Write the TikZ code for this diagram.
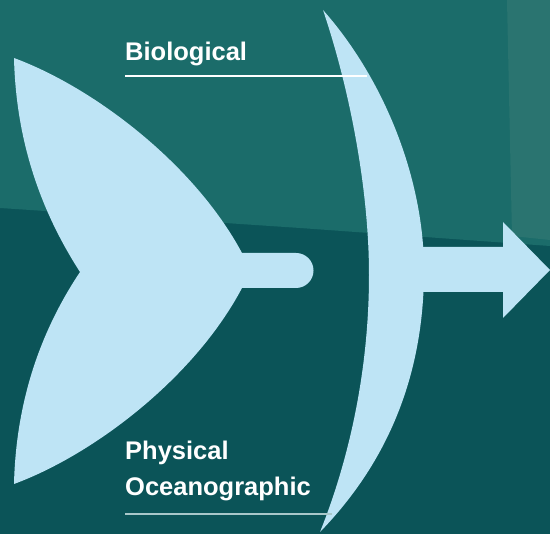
\documentclass[tikz,border=0pt]{standalone}
\usepackage{fontspec}
\setmainfont{Liberation Sans}
\definecolor{seatop}{HTML}{1B6C6A}
\definecolor{seadeep}{HTML}{0B5458}
\definecolor{seaedge}{HTML}{2A7470}
\definecolor{ice}{HTML}{BEE4F5}
\definecolor{mist}{HTML}{A9C8CA}
\begin{document}
\begin{tikzpicture}[
    x=1pt,
    y=-1pt,
    font=\fontsize{25.5}{30}\selectfont\bfseries,
    heading/.style={anchor=base west, inner sep=0pt, text=white},
    underrule/.style={line width=1.5pt}
]
\useasboundingbox (0,0) rectangle (550,534);
\fill[seadeep] (0,0) rectangle (550,534);
\fill[seatop] (0,0) -- (550,0) -- (550,246) -- (300,228) -- (0,208) -- cycle;
\fill[seaedge] (507,0) -- (550,0) -- (550,240) -- (512,236) -- cycle;

\fill[ice] (14,58) .. controls (95,88) and (195,165) .. (242,253)
    -- (296,253) .. controls (305.7,253) and (313.5,260.8) .. (313.5,270.5)
    .. controls (313.5,280.2) and (305.7,288) .. (296,288) -- (242,288)
    .. controls (195,377) and (95,454) .. (14,484)
    .. controls (16,402) and (40,332) .. (80,272)
    .. controls (40,210) and (16,140) .. (14,58) -- cycle;

\fill[ice] (323,10) .. controls (385,80) and (424,180) .. (424,270)
    .. controls (424,375) and (388,462) .. (320,532)
    .. controls (345,470) and (369,380) .. (369,275)
    .. controls (369,190) and (350,90) .. (323,10) -- cycle;

\fill[ice] (400,247) -- (503,247) -- (503,222) -- (550,270)
    -- (503,318) -- (503,292) -- (400,292) -- cycle;

\node[heading] (bio) at (125,61) {Biological};
\draw[white, underrule] (125,76) -- (367,76);

\node[heading] (phys) at (125,460) {Physical};
\node[heading] (ocean) at (125,496) {Oceanographic};
\draw[mist, underrule] (125,514) -- (332,514);
\end{tikzpicture}
\end{document}
